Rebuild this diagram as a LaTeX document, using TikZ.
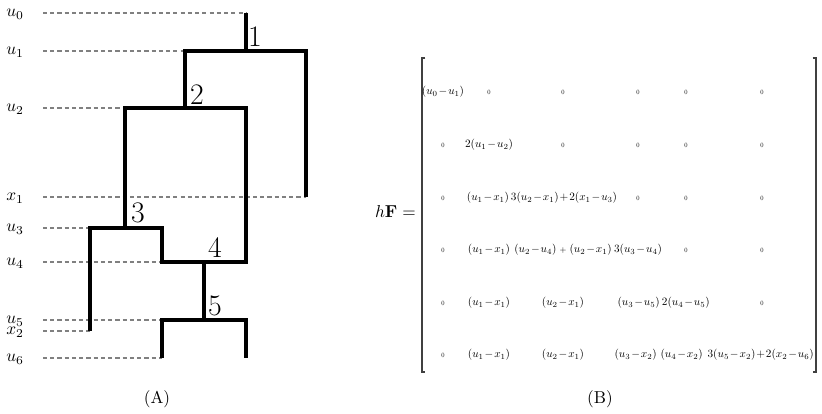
\documentclass[tikz,border=0pt]{standalone}

\newcommand*{\mcola}{443}
\newcommand*{\mcolb}{489}
\newcommand*{\mcolc}{563}
\newcommand*{\mcold}{638}
\newcommand*{\mcole}{686}
\newcommand*{\mcolf}{762}
\newcommand*{\mrowa}{92}
\newcommand*{\mrowb}{145}
\newcommand*{\mrowc}{198}
\newcommand*{\mrowd}{250}
\newcommand*{\mrowe}{303}
\newcommand*{\mrowf}{355}
\newcommand*{\smallplus}{\mkern5mu\hbox{\scriptsize$+$}\mkern5mu}

\begin{document}
\begin{tikzpicture}
[
	branch/.style={line width=1.75pt},
	guide/.style={gray,line width=0.6pt,dash pattern=on 2.4pt off 1.8pt},
	lvl/.style={anchor=base west,inner sep=0pt},
	merge/.style={inner sep=0pt,font=\LARGE},
	entry/.style={inner sep=0pt,scale=0.65,font={\medmuskip=1.5mu}},
	zero/.style={inner sep=0pt,scale=0.38},
	bracket/.style={black!75,line width=0.6pt},
	x=0.58pt,y=-0.58pt
]
	\useasboundingbox (0,0) rectangle (822,414);

	% levels
	\node[lvl] (lu0) at (6,17) {$u_0$};
	\node[lvl] (lu1) at (6,55) {$u_1$};
	\node[lvl] (lu2) at (6,112) {$u_2$};
	\node[lvl] (lx1) at (6,201) {$x_1$};
	\node[lvl] (lu3) at (6,232) {$u_3$};
	\node[lvl] (lu4) at (6,266) {$u_4$};
	\node[lvl] (lu5) at (6,324) {$u_5$};
	\node[lvl] (lx2) at (6,335) {$x_2$};
	\node[lvl] (lu6) at (6,362) {$u_6$};
	\coordinate (start) at (43,0);

	% tree corners
	\coordinate (top) at (246,13);
	\coordinate (m1) at (246,51);
	\coordinate (m1l) at (185,51);
	\coordinate (m1r) at (306,51);
	\coordinate (leafa) at (306,197);
	\coordinate (m2) at (185,108);
	\coordinate (m2l) at (125,108);
	\coordinate (m2r) at (246,108);
	\coordinate (m3) at (125,228);
	\coordinate (m3l) at (90,228);
	\coordinate (m3r) at (162,228);
	\coordinate (leafb) at (90,331);
	\coordinate (m4) at (204,262);
	\coordinate (m4l) at (162,262);
	\coordinate (m4r) at (246,262);
	\coordinate (m5) at (204,320);
	\coordinate (m5l) at (162,320);
	\coordinate (m5r) at (246,320);
	\coordinate (leafc) at (162,358);
	\coordinate (leafd) at (246,358);

	% dashed guides
	\draw[guide] (start |- top) -- (top);
	\draw[guide] (start |- m1l) -- (m1l);
	\draw[guide] (start |- m2l) -- (m2l);
	\draw[guide] (start |- leafa) -- (leafa);
	\draw[guide] (start |- m3l) -- (m3l);
	\draw[guide] (start |- m4l) -- (m4l);
	\draw[guide] (start |- m5l) -- (m5l);
	\draw[guide] (start |- leafb) -- (leafb);
	\draw[guide] (start |- leafc) -- (leafc);

	% tree
	\draw[branch] (top) -- (m1);
	\draw[branch] (m2) -- (m1l) -- (m1r) -- (leafa);
	\draw[branch] (m3) -- (m2l) -- (m2r) -- (m4r) -- (m4l) -- (m3r) -- (m3l) -- (leafb);
	\draw[branch] (m4) -- (m5);
	\draw[branch] (leafc) -- (m5l) -- (m5r) -- (leafd);

	\node[merge] (k1) at (255,37) {1};
	\node[merge] (k2) at (197,95) {2};
	\node[merge] (k3) at (138,213) {3};
	\node[merge] (k4) at (215,248) {4};
	\node[merge] (k5) at (215,306) {5};

	\node (capa) at (157,399) {(A)};

	% matrix
	\node[anchor=east,inner sep=0pt] (hf) at (416,212) {$h\mathbf{F}=$};
	\coordinate (lbt) at (422,58);
	\coordinate (lbb) at (422,372);
	\coordinate (rbt) at (816,58);
	\coordinate (rbb) at (816,372);
	\draw[bracket] ([xshift=2pt]lbt) -- (lbt) -- (lbb) -- ([xshift=2pt]lbb);
	\draw[bracket] ([xshift=-2pt]rbt) -- (rbt) -- (rbb) -- ([xshift=-2pt]rbb);

	\node[entry] (e11) at (\mcola,\mrowa) {$(u_0-u_1)$};
	\node[zero] (e12) at (\mcolb,\mrowa) {$0$};
	\node[zero] (e13) at (\mcolc,\mrowa) {$0$};
	\node[zero] (e14) at (\mcold,\mrowa) {$0$};
	\node[zero] (e15) at (\mcole,\mrowa) {$0$};
	\node[zero] (e16) at (\mcolf,\mrowa) {$0$};

	\node[zero] (e21) at (\mcola,\mrowb) {$0$};
	\node[entry] (e22) at (\mcolb,\mrowb) {$2(u_1-u_2)$};
	\node[zero] (e23) at (\mcolc,\mrowb) {$0$};
	\node[zero] (e24) at (\mcold,\mrowb) {$0$};
	\node[zero] (e25) at (\mcole,\mrowb) {$0$};
	\node[zero] (e26) at (\mcolf,\mrowb) {$0$};

	\node[zero] (e31) at (\mcola,\mrowc) {$0$};
	\node[entry] (e32) at (488,\mrowc) {$(u_1-x_1)$};
	\node[entry] (e33) at (564,\mrowc) {$3(u_2-x_1)+2(x_1-u_3)$};
	\node[zero] (e34) at (\mcold,\mrowc) {$0$};
	\node[zero] (e35) at (\mcole,\mrowc) {$0$};
	\node[zero] (e36) at (\mcolf,\mrowc) {$0$};

	\node[zero] (e41) at (\mcola,\mrowd) {$0$};
	\node[entry] (e42) at (\mcolb,\mrowd) {$(u_1-x_1)$};
	\node[entry] (e43) at (\mcolc,\mrowd) {$(u_2-u_4)\smallplus(u_2-x_1)$};
	\node[entry] (e44) at (\mcold,\mrowd) {$3(u_3-u_4)$};
	\node[zero] (e45) at (\mcole,\mrowd) {$0$};
	\node[zero] (e46) at (\mcolf,\mrowd) {$0$};

	\node[zero] (e51) at (\mcola,\mrowe) {$0$};
	\node[entry] (e52) at (\mcolb,\mrowe) {$(u_1-x_1)$};
	\node[entry] (e53) at (\mcolc,\mrowe) {$(u_2-x_1)$};
	\node[entry,anchor=east] (e54) at (660,\mrowe) {$(u_3-u_5)$};
	\node[entry,anchor=east] (e55) at (710,\mrowe) {$2(u_4-u_5)$};
	\node[zero] (e56) at (\mcolf,\mrowe) {$0$};

	\node[zero] (e61) at (\mcola,\mrowf) {$0$};
	\node[entry] (e62) at (\mcolb,\mrowf) {$(u_1-x_1)$};
	\node[entry] (e63) at (\mcolc,\mrowf) {$(u_2-x_1)$};
	\node[entry,anchor=east] (e64) at (657,\mrowf) {$(u_3-x_2)$};
	\node[entry,anchor=east] (e65) at (703,\mrowf) {$(u_4-x_2)$};
	\node[entry,anchor=east] (e66) at (814,\mrowf) {$3(u_5-x_2)+2(x_2-u_6)$};

	\node (capb) at (600,399) {(B)};

\end{tikzpicture}
\end{document}
